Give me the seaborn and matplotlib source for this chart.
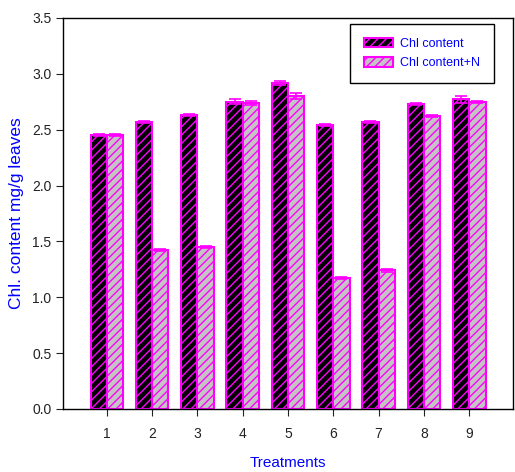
import matplotlib
matplotlib.use("Agg")
import matplotlib.pyplot as plt
import seaborn as sns
import numpy as np
import pandas as pd

# data
treatments = ["1", "2", "3", "4", "5", "6", "7", "8", "9"]
chl = [2.45, 2.57, 2.63, 2.75, 2.92, 2.54, 2.57, 2.73, 2.77]
chl_err = [0.01, 0.01, 0.01, 0.02, 0.02, 0.01, 0.01, 0.01, 0.03]
chl_n = [2.45, 1.42, 1.45, 2.74, 2.80, 1.17, 1.24, 2.62, 2.75]
chl_n_err = [0.01, 0.01, 0.01, 0.02, 0.03, 0.01, 0.01, 0.01, 0.01]
series = ["Chl content", "Chl content+N"]

df = pd.DataFrame({
    "treatment": treatments * 2,
    "value": chl + chl_n,
    "err": chl_err + chl_n_err,
    "series": [series[0]] * 9 + [series[1]] * 9,
})

sns.set_style("ticks")
plt.rcParams["font.family"] = ["Liberation Sans", "DejaVu Sans"]
plt.rcParams["hatch.color"] = "#ff00ff"
plt.rcParams["hatch.linewidth"] = 1.0

fig = plt.figure(figsize=(5.15, 4.72), dpi=100)
ax = fig.add_axes([0.123, 0.1335, 0.8725, 0.8285])

sns.barplot(data=df, x="treatment", y="value", hue="series",
            palette=["black", "#c4c4c4"], width=0.72, errorbar=None,
            edgecolor="#ff00ff", linewidth=1.5, saturation=1,
            legend=False, ax=ax)

bar_conts = list(ax.containers)

# hatching + error bars per series
for cont, s in zip(bar_conts, series):
    errs = df.loc[df["series"] == s, "err"].values
    xs = []
    ys = []
    for p in cont.patches:
        p.set_hatch("////")
        p.set_edgecolor("#ff00ff")
        xs.append(p.get_x() + p.get_width() / 2)
        ys.append(p.get_height())
    ax.errorbar(xs, ys, yerr=errs, fmt="none", ecolor="#ff00ff",
                elinewidth=1.2, capsize=4, capthick=1.2)

handles = [c.patches[0] for c in bar_conts]
leg = ax.legend(handles, series, loc="upper right", bbox_to_anchor=(0.958, 0.985),
                fancybox=False, framealpha=1, edgecolor="black", fontsize=9,
                handlelength=2.3, handleheight=0.8, borderpad=1.1,
                labelspacing=0.6, handletextpad=0.6, borderaxespad=0)
leg.get_frame().set_linewidth(1.0)
for t in leg.get_texts():
    t.set_color("#0000ff")

ax.set_ylim(0, 3.5)
ax.set_yticks(np.arange(0, 3.51, 0.5))
ax.set_yticklabels([f"{v:.1f}" for v in np.arange(0, 3.51, 0.5)])
ax.set_xlim(-0.96, 8.96)
ax.tick_params(direction="out", length=5, labelsize=10, colors="#222222")
ax.tick_params(axis="x", pad=8)
for sp in ax.spines.values():
    sp.set_visible(True)
    sp.set_color("black")
    sp.set_linewidth(1.0)

ax.set_xlabel("Treatments", color="#0000ff", fontsize=11, labelpad=11)
ax.set_ylabel("Chl. content mg/g leaves", color="#0000ff", fontsize=12.5, labelpad=6)

fig.savefig("out.png", dpi=100)
